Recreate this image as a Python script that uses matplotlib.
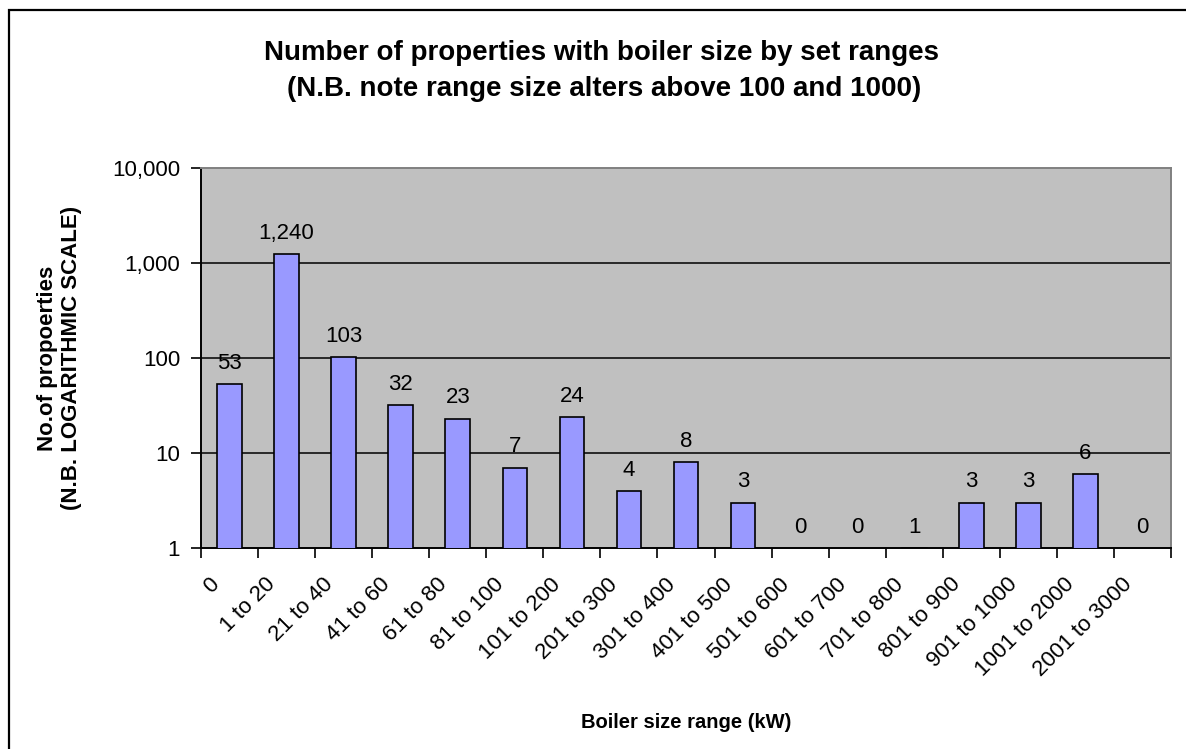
import matplotlib
matplotlib.use("Agg")
import matplotlib.pyplot as plt
from matplotlib.patches import Rectangle
from matplotlib.transforms import ScaledTranslation
import numpy as np

plt.rcParams['font.family'] = ['Liberation Sans', 'DejaVu Sans']

categories = ["0", "1 to 20", "21 to 40", "41 to 60", "61 to 80", "81 to 100",
              "101 to 200", "201 to 300", "301 to 400", "401 to 500", "501 to 600",
              "601 to 700", "701 to 800", "801 to 900", "901 to 1000",
              "1001 to 2000", "2001 to 3000"]
values = [53, 1240, 103, 32, 23, 7, 24, 4, 8, 3, 0, 0, 1, 3, 3, 6, 0]
ytick_values = [1, 10, 100, 1000, 10000]
ytick_labels = ["1", "10", "100", "1,000", "10,000"]

title_line1 = "Number of properties with boiler size by set ranges"
title_line2 = "(N.B. note range size alters above 100 and 1000)"
ylabel_line1 = "No.of propoerties"
ylabel_line2 = "(N.B. LOGARITHMIC SCALE)"
xlabel = "Boiler size range (kW)"

W, H = 1186, 749
fig = plt.figure(figsize=(W / 100, H / 100), dpi=100)
fig.patch.set_facecolor("white")

# chart border
fig.patches.append(Rectangle((9 / W, -0.05), 1.2, 1 - 10 / H + 0.05,
                             transform=fig.transFigure, fill=False,
                             edgecolor="black", linewidth=1.6, zorder=0))

ax = fig.add_axes([201 / W, 1 - 548 / H, (1171 - 201) / W, (548 - 168) / H])
ax.set_facecolor("#C0C0C0")

x = np.arange(len(categories))
ax.bar(x, values, width=0.43, color="#9999FF", edgecolor="black",
       linewidth=1.2, zorder=3)

ax.set_yscale("log")
ax.set_ylim(1, 10000)
ax.set_xlim(-0.5, len(categories) - 0.5)

ax.set_yticks(ytick_values)
ax.set_yticklabels(ytick_labels)
ax.yaxis.set_minor_locator(matplotlib.ticker.NullLocator())
ax.tick_params(axis="y", which="major", length=7, width=1.2, direction="out",
               labelsize=16, pad=8)

for yv in ytick_values[1:-1]:
    ax.axhline(yv, color="black", linewidth=1.1, zorder=2)

# category boundary ticks and centered labels
ax.set_xticks(np.arange(len(categories) + 1) - 0.5)
ax.set_xticklabels([])
ax.set_xticks(x, minor=True)
ax.set_xticklabels(categories, minor=True, rotation=45, ha="right",
                   va="center", rotation_mode="anchor", fontsize=16)
ax.tick_params(axis="x", which="major", length=7, width=1.2, direction="out")
ax.tick_params(axis="x", which="minor", length=0, pad=24)
shift = ScaledTranslation(-14 / 100, 0, fig.dpi_scale_trans)
for lbl in ax.get_xticklabels(minor=True):
    lbl.set_transform(lbl.get_transform() + shift)

for s in ["left", "bottom"]:
    ax.spines[s].set_color("black")
    ax.spines[s].set_linewidth(1.4)
for s in ["top", "right"]:
    ax.spines[s].set_color("#808080")
    ax.spines[s].set_linewidth(1.4)

for xi, v in zip(x, values):
    ax.annotate(f"{v:,}", xy=(xi, max(v, 1)), xytext=(0, 11),
                textcoords="offset points", ha="center", va="baseline",
                fontsize=16, zorder=4)

fig.text(601 / W, 1 - 60 / H, title_line1, ha="center", va="baseline",
         fontsize=20, fontweight="bold")
fig.text(604 / W, 1 - 96 / H, title_line2, ha="center", va="baseline",
         fontsize=20, fontweight="bold")
fig.text(48 / W, 1 - 358 / H, ylabel_line1, ha="center", va="center",
         rotation=90, fontsize=16, fontweight="bold")
fig.text(72 / W, 1 - 358 / H, ylabel_line2, ha="center", va="center",
         rotation=90, fontsize=16, fontweight="bold")
fig.text(686 / W, 1 - 722 / H, xlabel, ha="center", va="center",
         fontsize=14.5, fontweight="bold")

fig.savefig("out.png", dpi=100)
